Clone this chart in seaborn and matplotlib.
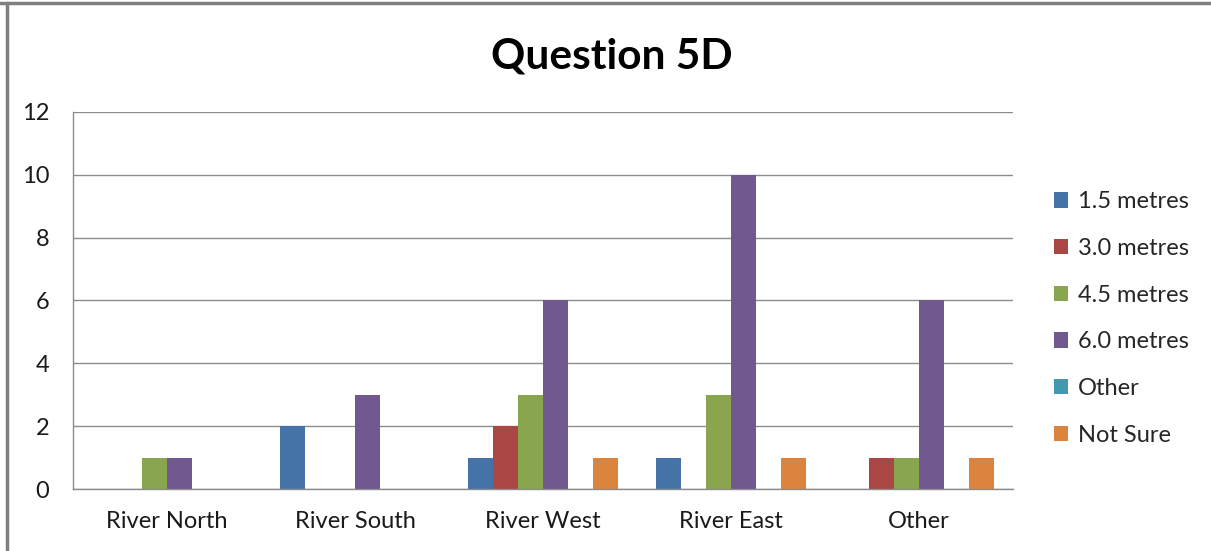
import matplotlib
matplotlib.use("Agg")
import matplotlib.pyplot as plt
import seaborn as sns
import pandas as pd
from matplotlib.patches import Rectangle
from matplotlib.lines import Line2D

# Survey answers per location
categories = ["River North", "River South", "River West", "River East", "Other"]
series = ["1.5 metres", "3.0 metres", "4.5 metres", "6.0 metres", "Other", "Not Sure"]
v_15 = [0, 2, 1, 1, 0]
v_30 = [0, 0, 2, 0, 1]
v_45 = [1, 0, 3, 3, 1]
v_60 = [1, 3, 6, 10, 6]
v_other = [0, 0, 0, 0, 0]
v_unsure = [0, 0, 1, 1, 1]
y_ticks = [0, 2, 4, 6, 8, 10, 12]

colors = ["#4572A7", "#AA4643", "#89A54E", "#71588F", "#4198AF", "#DB843D"]

rows = []
for name, vals in zip(series, [v_15, v_30, v_45, v_60, v_other, v_unsure]):
    for cat, v in zip(categories, vals):
        rows.append({"Location": cat, "Answer": name, "Count": v})
df = pd.DataFrame(rows)

sns.set_theme(style="white")
plt.rcParams["font.family"] = ["Lato", "DejaVu Sans"]

fig = plt.figure(figsize=(12.11, 5.51), dpi=100)
ax = fig.add_axes([0.0603, 0.1125, 0.7762, 0.6845])

sns.barplot(data=df, x="Location", y="Count", hue="Answer", order=categories,
            hue_order=series, palette=colors, width=0.8, saturation=1,
            edgecolor="none", linewidth=0, ax=ax, legend=False)

grid_c = "#8C8C8C"
ax.set_ylim(0, 12)
ax.set_xlim(-0.5, len(categories) - 0.5)
ax.set_yticks(y_ticks)
ax.set_yticklabels([str(t) for t in y_ticks], fontsize=17, color="#1a1a1a")
ax.set_xticks(range(len(categories)))
ax.set_xticklabels(categories, fontsize=17, color="#1a1a1a")
ax.set_xticks([i - 0.5 for i in range(len(categories) + 1)], minor=True)
ax.tick_params(axis="x", which="major", length=0, pad=16)
ax.tick_params(axis="x", which="minor", length=7, width=1, color=grid_c, direction="out")
ax.tick_params(axis="y", which="major", length=7, width=1, color=grid_c, direction="out", pad=10)
ax.yaxis.grid(True, color=grid_c, linewidth=1)
ax.set_axisbelow(True)
ax.set_xlabel("")
ax.set_ylabel("")
for s in ["top", "right"]:
    ax.spines[s].set_visible(False)
for s in ["left", "bottom"]:
    ax.spines[s].set_color(grid_c)
    ax.spines[s].set_linewidth(1)

fig.text(0.505, 0.898, "Question 5D", ha="center", va="center",
         fontsize=30.5, fontweight="bold", color="black")

handles = [Rectangle((0, 0), 1, 1, facecolor=c, edgecolor="none") for c in colors]
fig.legend(handles, series, loc="upper left", bbox_to_anchor=(0.8604, 0.674),
           frameon=False, fontsize=17, handlelength=0.62, handleheight=0.62,
           handletextpad=0.4, labelspacing=1.085, borderpad=0)

# Chart area frame: top and left edges
fig.add_artist(Line2D([0, 1], [0.9945, 0.9945], transform=fig.transFigure,
                      color="#7F7F7F", linewidth=2.5))
fig.add_artist(Line2D([0.0058, 0.0058], [0, 0.9945], transform=fig.transFigure,
                      color="#7F7F7F", linewidth=2.5))

fig.savefig("out.png", dpi=100, facecolor="white")
